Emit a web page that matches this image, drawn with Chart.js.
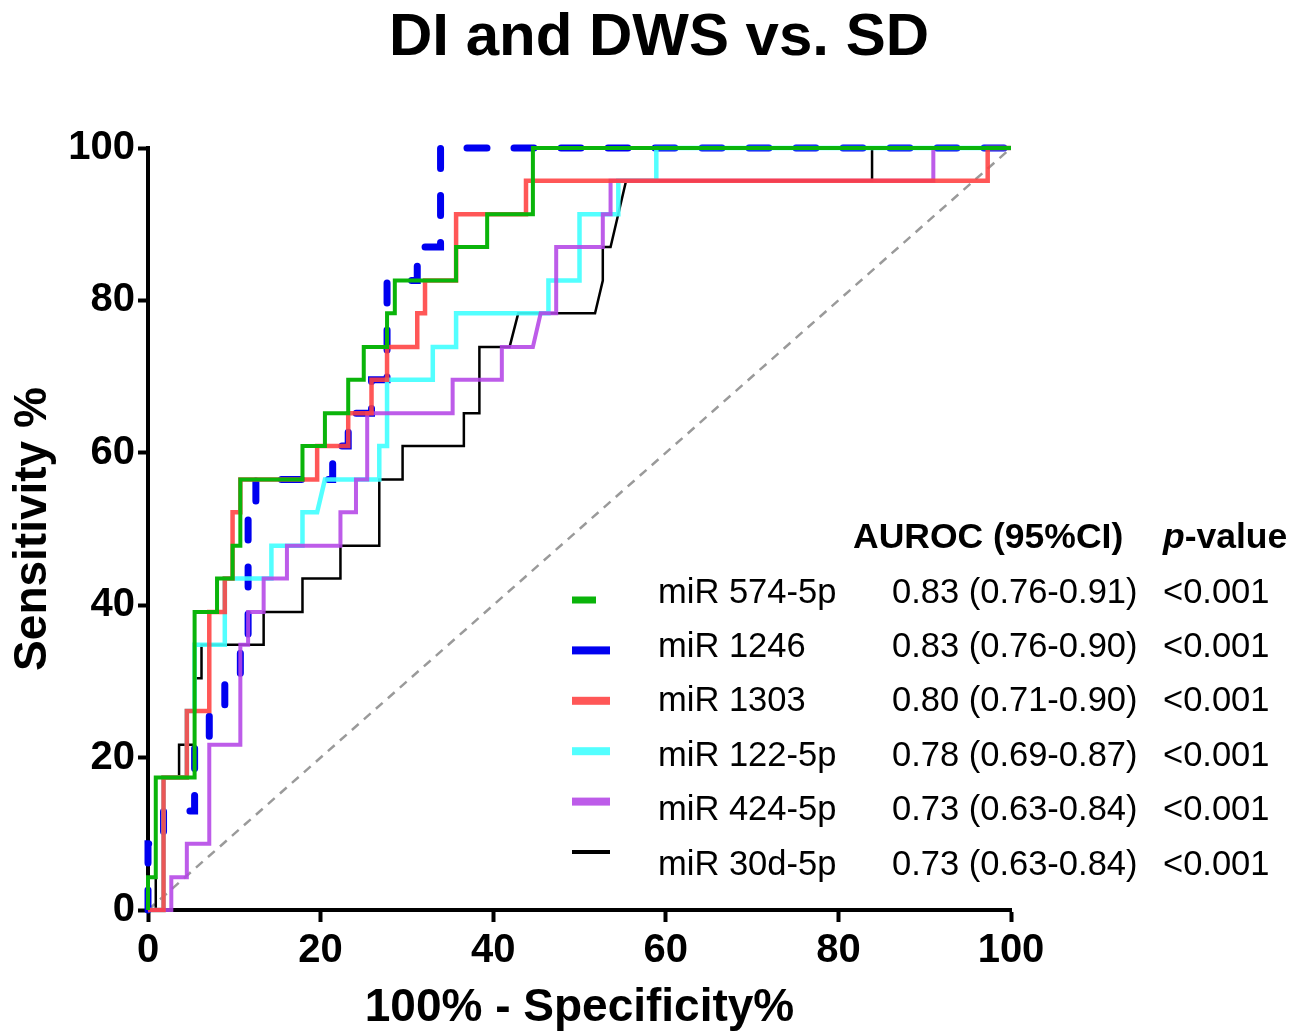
<!DOCTYPE html>
<html>
<head>
<meta charset="utf-8">
<title>DI and DWS vs. SD</title>
<script src="https://cdn.jsdelivr.net/npm/chart.js@4.4.1/dist/chart.umd.min.js"></script>
<style>
  html, body { margin: 0; padding: 0; background: #fff; }
  #wrap { width: 1306px; height: 1036px; }
</style>
</head>
<body>
<div id="wrap"><canvas id="roc" width="1306" height="1036"></canvas></div>
<script>
// ---------- DATA ----------
// each curve: [100% - specificity %, sensitivity %]
const mir574 = [[0,0],[0,4.3],[0.9,4.3],[0.9,17.4],[5.4,17.4],[5.4,39.1],[8.0,39.1],[8.0,43.5],[9.8,43.5],[9.8,47.8],[10.7,47.8],[10.7,56.5],[17.9,56.5],[17.9,60.9],[20.5,60.9],[20.5,65.2],[23.2,65.2],[23.2,69.6],[25.0,69.6],[25.0,73.9],[27.7,73.9],[27.7,78.3],[28.6,78.3],[28.6,82.6],[35.7,82.6],[35.7,87.0],[39.3,87.0],[39.3,91.3],[44.6,91.3],[44.6,100],[100,100]];
const mir1246 = [[0,0],[0,8.7],[1.8,8.7],[1.8,13.0],[5.4,13.0],[5.4,21.7],[7.1,21.7],[7.1,26.1],[8.9,26.1],[8.9,30.4],[10.7,30.4],[10.7,34.8],[11.6,34.8],[11.6,52.2],[12.5,52.2],[12.5,56.5],[21.4,56.5],[21.4,60.9],[23.2,60.9],[23.2,65.2],[25.9,65.2],[25.9,69.6],[27.7,69.6],[27.7,82.6],[31.2,82.6],[31.2,87.0],[33.9,87.0],[33.9,100],[100,100]];
const mir1303 = [[0,0],[1.8,0],[1.8,17.4],[4.5,17.4],[4.5,26.1],[7.1,26.1],[7.1,39.1],[8.9,39.1],[8.9,43.5],[9.8,43.5],[9.8,52.2],[10.7,52.2],[10.7,56.5],[19.6,56.5],[19.6,60.9],[23.2,60.9],[23.2,65.2],[25.9,65.2],[25.9,69.6],[27.7,69.6],[27.7,73.9],[31.2,73.9],[31.2,78.3],[32.1,78.3],[32.1,82.6],[35.7,82.6],[35.7,91.3],[43.8,91.3],[43.8,95.7],[97.3,95.7],[97.3,100],[100,100]];
const mir122 = [[0,0],[1.8,0],[1.8,17.4],[4.5,17.4],[4.5,26.1],[5.4,26.1],[5.4,34.8],[8.9,34.8],[8.9,43.5],[14.3,43.5],[14.3,47.8],[17.9,47.8],[17.9,52.2],[19.6,52.2],[20.5,56.5],[26.8,56.5],[26.8,60.9],[27.7,60.9],[27.7,69.6],[33.0,69.6],[33.0,73.9],[35.7,73.9],[35.7,78.3],[46.4,78.3],[46.4,82.6],[50.0,82.6],[50.0,91.3],[54.5,91.3],[54.5,95.7],[58.9,95.7],[58.9,100],[100,100]];
const mir424 = [[0,0],[2.7,0],[2.7,4.3],[4.5,4.3],[4.5,8.7],[7.1,8.7],[7.1,21.7],[10.7,21.7],[10.7,34.8],[11.6,34.8],[11.6,39.1],[13.4,39.1],[13.4,43.5],[16.1,43.5],[16.1,47.8],[22.3,47.8],[22.3,52.2],[24.1,52.2],[24.1,56.5],[25.4,56.5],[25.4,65.2],[35.3,65.2],[35.3,69.6],[41.0,69.6],[41.0,73.9],[44.6,73.9],[45.5,78.3],[47.3,78.3],[47.3,87.0],[52.7,87.0],[52.7,91.3],[53.6,91.3],[53.6,95.7],[91.0,95.7],[91.0,100],[100,100]];
const mir30d = [[0,0],[0.9,0],[0.9,17.4],[3.6,17.4],[3.6,21.7],[5.4,21.7],[5.4,30.4],[6.2,30.4],[6.2,34.8],[13.4,34.8],[13.4,39.1],[17.9,39.1],[17.9,43.5],[22.3,43.5],[22.3,47.8],[26.8,47.8],[26.8,56.5],[29.5,56.5],[29.5,60.9],[36.6,60.9],[36.6,65.2],[38.4,65.2],[38.4,73.9],[41.9,73.9],[42.9,78.3],[51.8,78.3],[52.7,82.6],[52.7,87.0],[53.6,87.0],[55.4,95.7],[83.9,95.7],[83.9,100],[100,100]];
const chanceLine = [[0,0],[100,100]];

const chartTitle = "DI and DWS vs. SD";
const seriesNames = ["miR 574-5p", "miR 1246", "miR 1303", "miR 122-5p", "miR 424-5p", "miR 30d-5p"];
const aurocText = ["0.83 (0.76-0.91)", "0.83 (0.76-0.90)", "0.80 (0.71-0.90)", "0.78 (0.69-0.87)", "0.73 (0.63-0.84)", "0.73 (0.63-0.84)"];
const pValues = ["<0.001", "<0.001", "<0.001", "<0.001", "<0.001", "<0.001"];
const xTicks = [0, 20, 40, 60, 80, 100];
const yTicks = [0, 20, 40, 60, 80, 100];

// ---------- STYLE ----------
const FONT = '"Liberation Sans", Arial, Helvetica, sans-serif';
const seriesColors = ["#0ab40a", "#0000f0", "rgba(255,64,64,0.88)", "rgba(64,255,255,0.9)", "rgba(180,70,230,0.88)", "#000000"];
const seriesWidths = [4, 7, 4.5, 4.5, 4, 2.5];
const sampleWidths = [24, 38, 38, 38, 38, 38];
const sampleThick = [7, 8, 8, 8, 8, 4];

const toPts = arr => arr.map(p => ({ x: p[0], y: p[1] }));
const curves = [mir574, mir1246, mir1303, mir122, mir424, mir30d];

const datasets = curves.map((c, i) => ({
  label: seriesNames[i],
  data: toPts(c),
  borderColor: seriesColors[i],
  borderWidth: seriesWidths[i],
  borderDash: i === 1 ? [20, 27] : [],
  borderCapStyle: i === 1 ? "round" : "butt",
  borderJoinStyle: "miter",
  showLine: true,
  pointRadius: 0,
  tension: 0,
  clip: false,
  order: [0, 4, 1, 3, 2, 5][i]
}));

datasets.push({
  label: "chance",
  data: toPts(chanceLine),
  borderColor: "#9a9a9a",
  borderWidth: 2.5,
  borderDash: [9, 7],
  showLine: true,
  pointRadius: 0,
  clip: false,
  order: 9
});

// ---------- TITLE + LEGEND TABLE ----------
const legendTable = {
  id: "legendTable",
  afterDraw(chart) {
    const ctx = chart.ctx;
    ctx.save();
    ctx.fillStyle = "#000";
    ctx.textBaseline = "middle";

    // title, centred on the page (not on the plot)
    ctx.textAlign = "center";
    ctx.font = "bold 60px " + FONT;
    ctx.fillText(chartTitle, 659, 38);

    ctx.textAlign = "left";
    // header
    ctx.font = "bold 35.5px " + FONT;
    ctx.fillText("AUROC (95%CI)", 853, 538);
    ctx.font = "italic bold 35.5px " + FONT;
    ctx.fillText("p", 1163, 538);
    const pw = ctx.measureText("p").width;
    ctx.font = "bold 35.5px " + FONT;
    ctx.fillText("-value", 1163 + pw, 538);

    // rows
    ctx.font = "34.5px " + FONT;
    seriesNames.forEach((name, i) => {
      const rowY = 593 + i * 54.4;
      ctx.fillStyle = "#000";
      ctx.fillText(name, 658, rowY);
      ctx.fillText(aurocText[i], 892, rowY);
      ctx.fillText(pValues[i], 1163, rowY);

      const sy = 600 + i * 50.4;
      ctx.fillStyle = seriesColors[i];
      ctx.fillRect(572, sy - sampleThick[i] / 2, sampleWidths[i], sampleThick[i]);
    });
    ctx.restore();
  }
};

new Chart(document.getElementById("roc"), {
  type: "scatter",
  data: { datasets: datasets },
  options: {
    responsive: false,
    animation: false,
    devicePixelRatio: 1,
    layout: { padding: { left: 0, right: 295, top: 148, bottom: 0 } },
    plugins: {
      legend: { display: false },
      tooltip: { enabled: false },
      title: { display: false }
    },
    scales: {
      x: {
        type: "linear",
        min: 0,
        max: 100,
        afterFit: s => { s.height = 126; },
        afterBuildTicks: s => { s.ticks = xTicks.map(v => ({ value: v })); },
        border: { display: true, color: "#000", width: 4 },
        grid: { drawOnChartArea: false, drawTicks: true, tickLength: 12, tickWidth: 4, tickColor: "#000" },
        ticks: { color: "#000", padding: 5, maxRotation: 0, font: { family: FONT, size: 40, weight: "bold" } },
        title: {
          display: true,
          text: "100% - Specificity%",
          color: "#000",
          font: { family: FONT, size: 46, weight: "bold" },
          padding: { top: 0, bottom: 0 }
        }
      },
      y: {
        type: "linear",
        min: 0,
        max: 100,
        afterFit: s => { s.width = 148; },
        afterBuildTicks: s => { s.ticks = yTicks.map(v => ({ value: v })); },
        border: { display: true, color: "#000", width: 4 },
        grid: { drawOnChartArea: false, drawTicks: true, tickLength: 10, tickWidth: 4, tickColor: "#000" },
        ticks: { color: "#000", padding: 3, font: { family: FONT, size: 40, weight: "bold" } },
        title: {
          display: true,
          text: "Sensitivity %",
          color: "#000",
          font: { family: FONT, size: 46, weight: "bold" },
          padding: { top: 6, bottom: 0 }
        }
      }
    }
  },
  plugins: [legendTable]
});
</script>
</body>
</html>
